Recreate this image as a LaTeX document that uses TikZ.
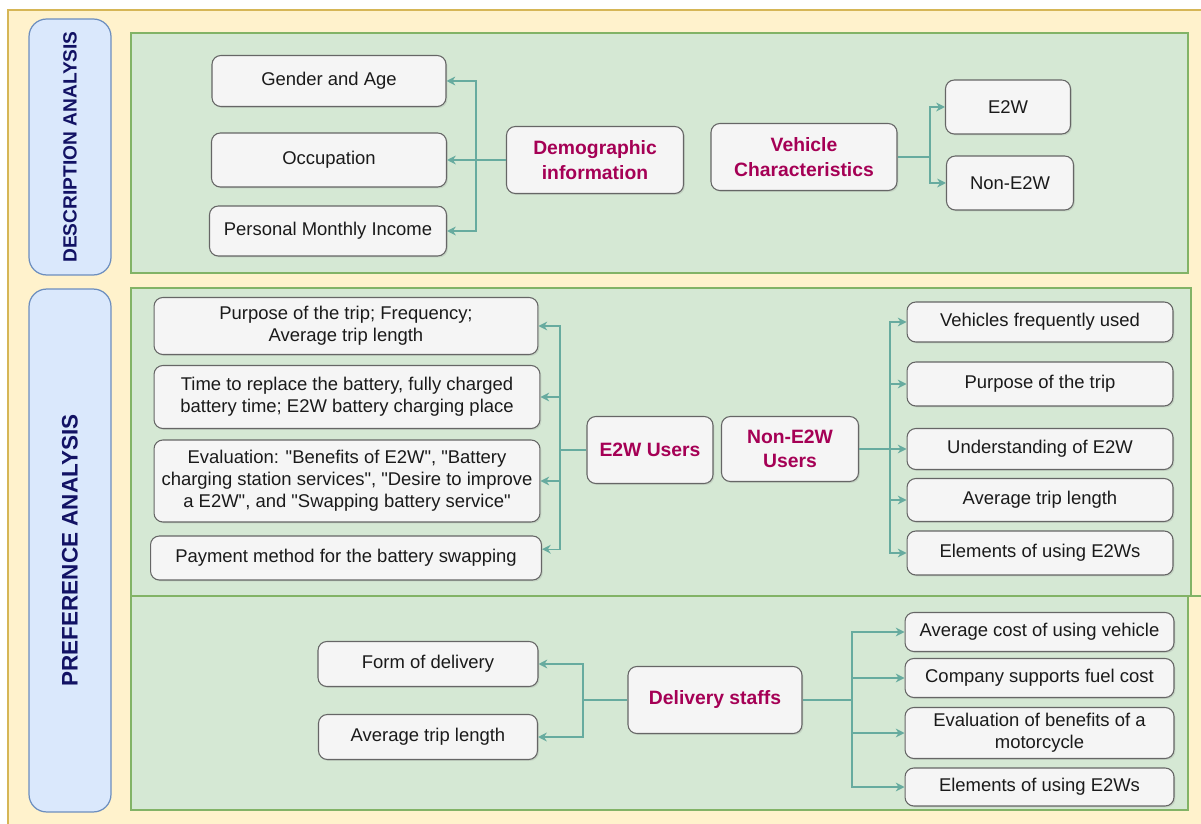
\documentclass[tikz,border=0pt]{standalone}
\usepackage{fontspec}
\setmainfont{Liberation Sans}[Ligatures=TeXOff]
\usetikzlibrary{arrows.meta,shadows}

\definecolor{outerfill}{HTML}{FFF2CC}
\definecolor{outerline}{HTML}{D6B656}
\definecolor{sidefill}{HTML}{DAE8FC}
\definecolor{sideline}{HTML}{6C8EBF}
\definecolor{sidetext}{RGB}{18,18,100}
\definecolor{panelfill}{HTML}{D5E8D4}
\definecolor{panelline}{HTML}{82B366}
\definecolor{itemfill}{HTML}{F5F5F5}
\definecolor{itemline}{HTML}{666666}
\definecolor{itemtext}{HTML}{1A1A1A}
\definecolor{headtext}{RGB}{165,0,85}
\definecolor{linkcol}{HTML}{67AB9F}

\tikzset{
  item/.style={draw=itemline, fill=itemfill, rounded corners=5pt, align=center,
    text=itemtext, inner sep=2pt, line width=0.6pt,
    font=\fontsize{10.5}{12.5}\selectfont,
    drop shadow={opacity=0.2, shadow xshift=0.8pt, shadow yshift=-0.8pt}},
  head/.style={item, text=headtext, font=\fontsize{11}{14}\selectfont\bfseries},
  sidebox/.style={draw=sideline, fill=sidefill, rounded corners=10pt, rotate=90,
    text=sidetext, line width=0.7pt},
  panel/.style={draw=panelline, fill=panelfill, line width=0.9pt},
  line/.style={draw=linkcol, line width=0.8pt},
  link/.style={line, -{Stealth[length=5pt,width=5pt]}}
}

\begin{document}
\begin{tikzpicture}[x=0.02cm,y=-0.02cm]
  \useasboundingbox (0,0) rectangle (1201,824);
  \clip (0,0) rectangle (1201,824);

  % background
  \draw[draw=outerline, fill=outerfill, line width=0.9pt] (8,10) rectangle (1220,840);

  % side labels
  \node[sidebox, minimum width=5.12cm, minimum height=1.64cm,
    font=\fontsize{10.9}{12}\selectfont\bfseries] (desc) at (70,147) {DESCRIPTION ANALYSIS};
  \node[sidebox, minimum width=10.46cm, minimum height=1.64cm,
    font=\fontsize{12.8}{14}\selectfont\bfseries] (pref) at (70,550.5) {PREFERENCE ANALYSIS};

  % panels
  \draw[panel] (131,33) rectangle (1188,273);
  \draw[panel] (131,288) rectangle (1191,596);
  \draw[panel] (131,596) rectangle (1188,810);
  \draw[draw=panelline, line width=0.9pt] (1191,596) -- (1201,596);

  % description analysis
  \node[item, minimum width=4.68cm, minimum height=1.02cm] (gender) at (329,81) {Gender and Age};
  \node[item, minimum width=4.7cm, minimum height=1.08cm] (occup) at (329,160) {Occupation};
  \node[item, minimum width=4.74cm, minimum height=1.0cm] (income) at (328,231) {Personal Monthly Income};
  \node[head, minimum width=3.54cm, minimum height=1.34cm] (demo) at (595,160) {Demographic\\information};
  \node[head, minimum width=3.72cm, minimum height=1.34cm] (vehicle) at (804,157) {Vehicle\\Characteristics};
  \node[item, minimum width=2.5cm, minimum height=1.08cm] (etw) at (1008,107) {E2W};
  \node[item, minimum width=2.54cm, minimum height=1.08cm] (nonetw) at (1010,183) {Non-E2W};

  \coordinate (jdemo) at (476,160);
  \draw[line] (demo.west) -- (jdemo);
  \draw[link] (jdemo) |- (gender.east);
  \draw[link] (jdemo) -- (occup.east);
  \draw[link] (jdemo) |- (income.east);

  \coordinate (jveh) at (930,157);
  \draw[line] (vehicle.east) -- (jveh);
  \draw[link] (jveh) |- (etw.west);
  \draw[link] (jveh) |- (nonetw.west);

  % preference analysis: users
  \node[item, minimum width=7.68cm, minimum height=1.14cm] (trip) at (346,326)
    {Purpose of the trip; Frequency;\\Average trip length};
  \node[item, minimum width=7.72cm, minimum height=1.26cm] (battery) at (347,397)
    {Time to replace the battery, fully charged\\battery time; E2W battery charging place};
  \node[item, minimum width=7.72cm, minimum height=1.64cm] (evalu) at (347,481)
    {Evaluation: "Benefits of E2W", "Battery\\charging station services", "Desire to improve\\a E2W", and "Swapping battery service"};
  \node[item, minimum width=7.82cm, minimum height=0.88cm] (payment) at (346,558)
    {Payment method for the battery swapping};
  \node[head, minimum width=2.52cm, minimum height=1.34cm] (users) at (650,450) {E2W Users};
  \node[head, minimum width=2.74cm, minimum height=1.3cm] (nonusers) at (790,449) {Non-E2W\\Users};

  \node[item, minimum width=5.32cm, minimum height=0.8cm] (freq) at (1040,322) {Vehicles frequently used};
  \node[item, minimum width=5.32cm, minimum height=0.88cm] (purpose) at (1040,384) {Purpose of the trip};
  \node[item, minimum width=5.32cm, minimum height=0.82cm] (underst) at (1040,449) {Understanding of E2W};
  \node[item, minimum width=5.32cm, minimum height=0.86cm] (avglen) at (1040,500) {Average trip length};
  \node[item, minimum width=5.32cm, minimum height=0.88cm] (elems) at (1040,553) {Elements of using E2Ws};

  \coordinate (jusers) at (560,450);
  \draw[line] (users.west) -- (jusers);
  \draw[link] (jusers) |- (trip.east);
  \draw[link] (jusers) |- (battery.east);
  \draw[link] (jusers) |- (evalu.east);
  \draw[link] (jusers) |- ([yshift=5pt]payment.east);

  \coordinate (jnon) at (890,449);
  \draw[line] (nonusers.east) -- (jnon);
  \draw[link] (jnon) |- (freq.west);
  \draw[link] (jnon) |- (purpose.west);
  \draw[link] (jnon) -- (underst.west);
  \draw[link] (jnon) |- (avglen.west);
  \draw[link] (jnon) |- (elems.west);

  % preference analysis: delivery
  \node[item, minimum width=4.4cm, minimum height=0.9cm] (form) at (428,664) {Form of delivery};
  \node[item, minimum width=4.38cm, minimum height=0.9cm] (dlen) at (428,737) {Average trip length};
  \node[head, minimum width=3.48cm, minimum height=1.34cm] (staff) at (715,700) {Delivery staffs};

  \node[item, minimum width=5.38cm, minimum height=0.78cm] (cost) at (1039.5,632) {Average cost of using vehicle};
  \node[item, minimum width=5.38cm, minimum height=0.78cm] (fuel) at (1039.5,678) {Company supports fuel cost};
  \node[item, minimum width=5.38cm, minimum height=1.02cm] (motor) at (1039.5,733)
    {Evaluation of benefits of a\\motorcycle};
  \node[item, minimum width=5.38cm, minimum height=0.76cm] (delems) at (1039.5,787) {Elements of using E2Ws};

  \coordinate (jstaffl) at (583,700);
  \draw[line] (staff.west) -- (jstaffl);
  \draw[link] (jstaffl) |- (form.east);
  \draw[link] (jstaffl) |- (dlen.east);

  \coordinate (jstaffr) at (852,700);
  \draw[line] (staff.east) -- (jstaffr);
  \draw[link] (jstaffr) |- (cost.west);
  \draw[link] (jstaffr) |- (fuel.west);
  \draw[link] (jstaffr) |- (motor.west);
  \draw[link] (jstaffr) |- (delems.west);
\end{tikzpicture}
\end{document}
